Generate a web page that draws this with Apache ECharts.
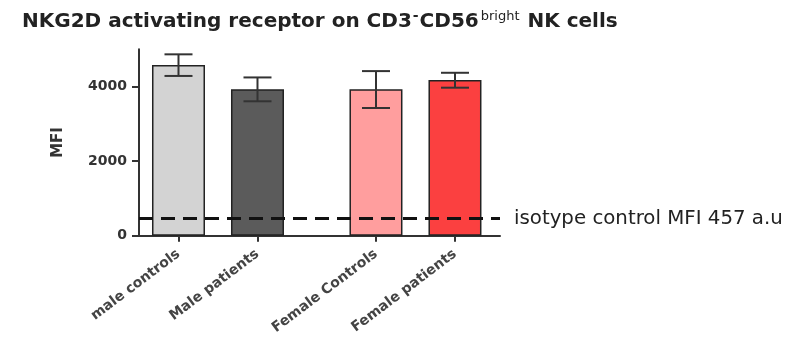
<!DOCTYPE html>
<html>
<head>
<meta charset="utf-8">
<script src="https://cdn.jsdelivr.net/npm/echarts@6/dist/echarts.min.js"></script>
<style>
  html, body { margin: 0; padding: 0; background: #fff; }
  #chart { width: 796px; height: 337px; }
</style>
</head>
<body>
<div id="chart"></div>
<script>
// Groups and their slot on the x axis (a wider gap separates male and female groups)
const categories = ['male controls', 'Male patients', 'Female Controls', 'Female patients'];
const slots = [0, 1, 2.5, 3.5];
// Mean MFI and error bar limits
const means = [4580, 3930, 3930, 4175];
const errLow = [4285, 3605, 3425, 3970];
const errHigh = [4865, 4245, 4415, 4370];
// Isotype control reference level
const isotypeMFI = 457;
const yTicks = [0, 2000, 4000];

const barColors = ['#d3d3d3', '#5b5b5b', '#ff9e9e', '#fb4040'];

const chart = echarts.init(document.getElementById('chart'), null, { renderer: 'canvas' });

const barData = slots.map((x, i) => ({
  value: [x, means[i]],
  itemStyle: { color: barColors[i] }
}));
const errData = slots.map((x, i) => [x, errLow[i], errHigh[i]]);

chart.setOption({
  animation: false,
  backgroundColor: '#ffffff',
  title: {
    left: 22,
    top: 6,
    padding: 0,
    text: '{a|NKG2D activating receptor on CD3}{m|-}{a|CD56}{s|bright}{a| NK cells}',
    textStyle: {
      rich: {
        a: { fontFamily: 'DejaVu Sans', fontWeight: 'bold', fontSize: 20, color: '#222', lineHeight: 26, verticalAlign: 'bottom' },
        m: { fontFamily: 'DejaVu Sans', fontWeight: 'bold', fontSize: 14, color: '#222', lineHeight: 13, verticalAlign: 'top', padding: [3, 1, 0, 1] },
        s: { fontFamily: 'DejaVu Sans', fontWeight: 'normal', fontSize: 13, color: '#222', lineHeight: 13, verticalAlign: 'top', padding: [4, 1, 0, 2] }
      }
    }
  },
  grid: { left: 139, right: 296, top: 49.3, bottom: 99.5, containLabel: false },
  xAxis: {
    type: 'value',
    min: -0.5,
    max: 4.07,
    splitLine: { show: false },
    axisLine: { show: true, onZero: false, lineStyle: { color: '#333', width: 2 } },
    axisTick: { show: true, customValues: slots, length: 6, lineStyle: { color: '#333', width: 2 } },
    axisLabel: {
      customValues: slots,
      rotate: 37,
      margin: 17,
      fontFamily: 'DejaVu Sans',
      fontWeight: 'bold',
      fontSize: 14,
      color: '#444',
      formatter: v => {
        const i = slots.findIndex(s => Math.abs(s - v) < 1e-6);
        return i >= 0 ? categories[i] : '';
      }
    }
  },
  yAxis: {
    type: 'value',
    min: 0,
    max: 5000,
    name: 'MFI',
    nameLocation: 'middle',
    nameGap: 73,
    nameRotate: 90,
    nameTextStyle: { fontFamily: 'DejaVu Sans', fontWeight: 'bold', fontSize: 15, color: '#333' },
    splitLine: { show: false },
    axisLine: { show: true, onZero: false, lineStyle: { color: '#333', width: 2 } },
    axisTick: { show: true, customValues: yTicks, length: 7, lineStyle: { color: '#333', width: 2 } },
    axisLabel: {
      customValues: yTicks,
      margin: 12,
      fontFamily: 'DejaVu Sans',
      fontWeight: 'bold',
      fontSize: 14,
      color: '#333',
      formatter: v => String(v)
    }
  },
  series: [
    {
      type: 'bar',
      barWidth: 53,
      data: barData,
      itemStyle: { borderColor: '#222', borderWidth: 1.5 },
      markLine: {
        symbol: 'none',
        silent: true,
        lineStyle: { type: [14, 8], color: '#111', width: 3 },
        label: {
          show: true,
          position: 'end',
          distance: 14,
          formatter: 'isotype control MFI ' + isotypeMFI + ' a.u',
          fontFamily: 'DejaVu Sans',
          fontSize: 19.8,
          color: '#222'
        },
        data: [{ yAxis: isotypeMFI }]
      },
      z: 2
    },
    {
      type: 'custom',
      data: errData,
      z: 3,
      renderItem: (params, api) => {
        const x = api.value(0);
        const lo = api.coord([x, api.value(1)]);
        const hi = api.coord([x, api.value(2)]);
        const half = 14;
        const style = { stroke: '#333', lineWidth: 2 };
        return {
          type: 'group',
          children: [
            { type: 'line', shape: { x1: lo[0], y1: lo[1], x2: hi[0], y2: hi[1] }, style },
            { type: 'line', shape: { x1: hi[0] - half, y1: hi[1], x2: hi[0] + half, y2: hi[1] }, style },
            { type: 'line', shape: { x1: lo[0] - half, y1: lo[1], x2: lo[0] + half, y2: lo[1] }, style }
          ]
        };
      }
    }
  ]
});
</script>
</body>
</html>
